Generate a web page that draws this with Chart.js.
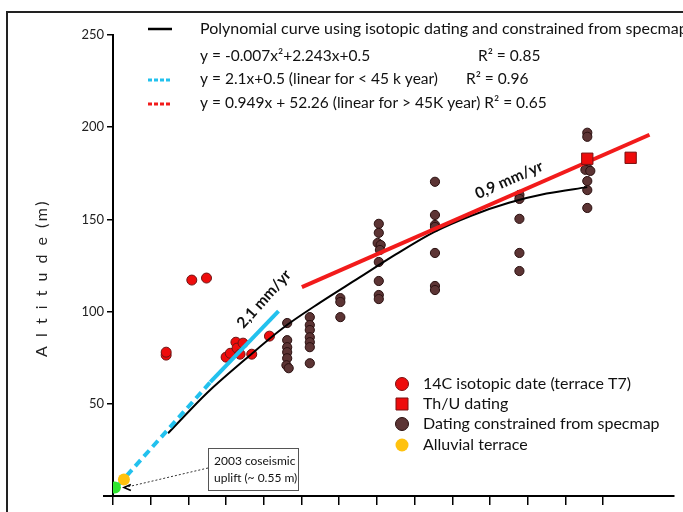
<!DOCTYPE html>
<html>
<head>
<meta charset="utf-8">
<script src="https://cdn.jsdelivr.net/npm/chart.js@4.4.1/dist/chart.umd.min.js"></script>
<style>
  html, body { margin: 0; padding: 0; background: #fff; }
  #wrap { width: 683px; height: 512px; }
</style>
</head>
<body>
<div id="wrap"><canvas id="uplift" width="683" height="512"></canvas></div>
<script>
// age in ka (x), altitude in m (y)
const yTicks = [50, 100, 150, 200, 250];

const c14Ages = [14.1, 14.1, 20.9, 24.8, 30.0, 31.1, 32.6, 32.9, 34.5, 33.7, 36.8, 41.5];
const c14Alt  = [76.4, 78.0, 117.1, 118.2, 75.3, 77.4, 83.4, 80.2, 82.9, 76.9, 76.9, 86.7];

const specAges = [46.2, 46.2, 46.2, 46.2, 46.2, 46.0, 46.6,
                  52.2, 52.2, 52.2, 52.2, 52.2, 52.2, 52.2,
                  60.3, 60.3, 60.3,
                  70.5, 70.5, 70.2, 71.0, 70.8, 70.5, 70.5, 70.5, 70.5,
                  85.4, 85.4, 85.4, 85.4, 85.4, 85.4, 85.4,
                  107.8, 107.8, 107.8, 107.8, 107.8,
                  125.8, 125.8, 125.8, 125.3, 126.6, 125.8, 125.8, 125.8];
const specAlt  = [93.8, 84.5, 80.7, 78.0, 74.7, 70.9, 69.3,
                  97.0, 92.7, 90.0, 86.1, 83.4, 80.7, 72.0,
                  107.3, 105.2, 97.0,
                  147.6, 142.7, 137.2, 136.1, 133.4, 126.9, 116.6, 109.0, 106.8,
                  170.4, 152.4, 147.0, 145.9, 131.8, 113.9, 111.7,
                  163.3, 161.1, 150.3, 131.8, 122.0,
                  197.0, 194.8, 177.9, 176.9, 176.3, 170.8, 165.9, 156.2];

const thuAges = [125.8, 137.3];
const thuAlt  = [182.9, 183.4];

const alluvialAges = [2.9];
const alluvialAlt  = [9.0];
const coseismicAges = [0.5];
const coseismicAlt  = [4.6];

// polynomial curve
const polyAges = [14.6, 25, 35, 45, 55, 65, 75, 85, 95, 105, 115, 125.8];
const polyAlt  = [34.0, 56, 74, 91, 105, 118, 131, 143, 152, 159, 164, 167.5];

// linear fits (end points)
const youngDashAges = [1.3, 25.8];
const youngDashAlt  = [5.7, 61.7];
const youngAges = [25.8, 43.9];
const youngAlt  = [61.7, 100.3];
const oldAges = [50.1, 142.3];
const oldAlt  = [113.3, 195.9];

const pts = (xs, ys) => xs.map((x, i) => ({ x: x, y: ys[i] }));

const FONT = 'Lato, "Open Sans", sans-serif';
const CYAN = '#22c1ee';
const RED = '#f21b1b';

const extras = {
  id: 'extras',
  afterDraw(chart) {
    const ctx = chart.ctx;
    ctx.save();

    // frame
    ctx.strokeStyle = '#222';
    ctx.lineWidth = 2;
    ctx.beginPath();
    ctx.moveTo(7, 512);
    ctx.lineTo(7, 12);
    ctx.lineTo(683, 12);
    ctx.stroke();

    // x axis stub left of origin
    const xs = chart.scales.x, ys = chart.scales.y;
    ctx.strokeStyle = '#000';
    ctx.beginPath();
    ctx.moveTo(103, ys.getPixelForValue(0));
    ctx.lineTo(114, ys.getPixelForValue(0));
    ctx.stroke();

    // top legend
    ctx.fillStyle = '#111';
    ctx.textBaseline = 'middle';
    ctx.lineWidth = 2.5;
    ctx.strokeStyle = '#000';
    ctx.beginPath(); ctx.moveTo(148, 29); ctx.lineTo(172, 29); ctx.stroke();
    ctx.lineWidth = 3;
    ctx.setLineDash([4, 2]);
    ctx.strokeStyle = CYAN;
    ctx.beginPath(); ctx.moveTo(148, 80); ctx.lineTo(172, 80); ctx.stroke();
    ctx.strokeStyle = RED;
    ctx.beginPath(); ctx.moveTo(148, 104); ctx.lineTo(172, 104); ctx.stroke();
    ctx.setLineDash([]);
    ctx.font = '16px ' + FONT;
    ctx.fillText('Polynomial curve using isotopic dating and constrained from specmap', 200, 29);
    ctx.font = '15.5px ' + FONT;
    ctx.fillText('y = -0.007x\u00b2+2.243x+0.5', 200, 56);
    ctx.fillText('R\u00b2 = 0.85', 478, 56);
    ctx.fillText('y = 2.1x+0.5 (linear for < 45 k year)', 200, 79);
    ctx.fillText('R\u00b2 = 0.96', 466, 79);
    ctx.fillText('y = 0.949x + 52.26 (linear for > 45K year) R\u00b2 = 0.65', 200, 103);

    // lower legend
    const rows = [
      ['14C isotopic date (terrace T7)', 'circle', '#ee0c0c', '#7a1010'],
      ['Th/U dating', 'rect', '#ee0c0c', '#7a1010'],
      ['Dating constrained from specmap', 'circle', '#5c3434', '#2a1010'],
      ['Alluvial terrace', 'circle', '#ffc20e', null]
    ];
    const rowY = [384, 404, 424, 445];
    ctx.font = '16px ' + FONT;
    rows.forEach((r, i) => {
      const y = rowY[i];
      ctx.fillStyle = r[2];
      ctx.beginPath();
      if (r[1] === 'rect') ctx.rect(396, y - 6, 12, 12);
      else ctx.arc(402, y, 6.5, 0, Math.PI * 2);
      ctx.fill();
      if (r[3]) { ctx.strokeStyle = r[3]; ctx.lineWidth = 1; ctx.stroke(); }
      ctx.fillStyle = '#111';
      ctx.fillText(r[0], 423, y);
    });

    // rate labels
    ctx.font = 'bold 15.5px ' + FONT;
    ctx.textAlign = 'center';
    ctx.fillStyle = '#111';
    ctx.save(); ctx.translate(264, 299); ctx.rotate(-48 * Math.PI / 180);
    ctx.fillText('2,1 mm/yr', 0, 0); ctx.restore();
    ctx.save(); ctx.translate(509, 180); ctx.rotate(-24 * Math.PI / 180);
    ctx.fillText('0,9 mm/yr', 0, 0); ctx.restore();

    // coseismic uplift callout
    const gx = xs.getPixelForValue(coseismicAges[0]);
    const gy = ys.getPixelForValue(coseismicAlt[0]);
    ctx.strokeStyle = '#333';
    ctx.lineWidth = 1;
    ctx.setLineDash([2, 2]);
    ctx.beginPath(); ctx.moveTo(208, 468); ctx.lineTo(gx + 10, gy); ctx.stroke();
    ctx.setLineDash([]);
    ctx.strokeStyle = '#000';
    ctx.lineWidth = 1.5;
    ctx.beginPath();
    ctx.moveTo(gx + 16, gy - 3); ctx.lineTo(gx + 9, gy); ctx.lineTo(gx + 16, gy + 3);
    ctx.stroke();
    ctx.fillStyle = '#fff';
    ctx.strokeStyle = '#555';
    ctx.lineWidth = 1;
    ctx.fillRect(208, 448, 90, 42);
    ctx.strokeRect(208.5, 448.5, 90, 42);
    ctx.fillStyle = '#111';
    ctx.textAlign = 'left';
    ctx.font = '12px ' + FONT;
    ctx.fillText('2003 coseismic', 214, 461);
    ctx.fillText('uplift (~ 0.55 m)', 214, 478);

    // y title, letter-spaced as in the figure
    ctx.font = '16px ' + FONT;
    ctx.fillStyle = '#222';
    ctx.textAlign = 'center';
    ctx.letterSpacing = '2.5px';
    ctx.save(); ctx.translate(42, 278); ctx.rotate(-Math.PI / 2);
    ctx.fillText('A l t i t u d e (m)', 0, 0); ctx.restore();

    ctx.restore();
  }
};

new Chart(document.getElementById('uplift'), {
  type: 'scatter',
  data: {
    datasets: [
      { label: 'Th/U dating', data: pts(thuAges, thuAlt), pointStyle: 'rect', pointRadius: 8,
        backgroundColor: '#ee0c0c', borderColor: '#7a1010', borderWidth: 1, order: 0 },
      { label: 'Coseismic', data: pts(coseismicAges, coseismicAlt), pointRadius: 6,
        backgroundColor: '#2ee62e', borderWidth: 0, order: 1 },
      { label: 'Alluvial terrace', data: pts(alluvialAges, alluvialAlt), pointRadius: 6,
        backgroundColor: '#ffc20e', borderWidth: 0, order: 2 },
      { label: 'Linear > 45 ka', data: pts(oldAges, oldAlt), type: 'line', showLine: true, pointRadius: 0,
        borderColor: RED, borderWidth: 4, order: 3 },
      { label: 'Linear < 45 ka', data: pts(youngAges, youngAlt), type: 'line', showLine: true, pointRadius: 0,
        borderColor: CYAN, borderWidth: 4, order: 4 },
      { label: 'Linear < 45 ka dashed', data: pts(youngDashAges, youngDashAlt), type: 'line', showLine: true, pointRadius: 0,
        borderColor: CYAN, borderWidth: 4, borderDash: [8, 5], order: 5 },
      { label: 'Polynomial', data: pts(polyAges, polyAlt), type: 'line', showLine: true, pointRadius: 0,
        borderColor: '#000', borderWidth: 2, cubicInterpolationMode: 'monotone', order: 6 },
      { label: '14C', data: pts(c14Ages, c14Alt), pointRadius: 5,
        backgroundColor: '#ee0c0c', borderColor: '#6e1414', borderWidth: 1, order: 7 },
      { label: 'Specmap', data: pts(specAges, specAlt), pointRadius: 4.6,
        backgroundColor: '#5c3434', borderColor: '#2a1010', borderWidth: 1, order: 8 }
    ]
  },
  options: {
    responsive: false,
    animation: false,
    devicePixelRatio: 1,
    layout: { padding: { top: 35, left: 0, right: 0, bottom: 0 } },
    plugins: { legend: { display: false }, tooltip: { enabled: false } },
    scales: {
      x: {
        type: 'linear', min: 0, max: 148.8,
        ticks: { display: false, stepSize: 10 },
        afterBuildTicks: s => { s.ticks = s.ticks.filter(t => t.value % 10 === 0); },
        afterFit: s => { s.height = 16; },
        grid: { drawOnChartArea: false, drawTicks: true, tickLength: 9, color: '#000', lineWidth: 1.5 },
        border: { color: '#000', width: 2 }
      },
      y: {
        min: 0, max: 250,
        ticks: { stepSize: 50, padding: 3, color: '#222', font: { family: FONT, size: 13 },
                 callback: v => v === 0 ? '' : v },
        afterFit: s => { s.width = 113; },
        grid: { drawOnChartArea: false, drawTicks: true, tickLength: 6, color: '#000', lineWidth: 1.5 },
        border: { color: '#000', width: 2 }
      }
    }
  },
  plugins: [extras]
});
</script>
</body>
</html>
